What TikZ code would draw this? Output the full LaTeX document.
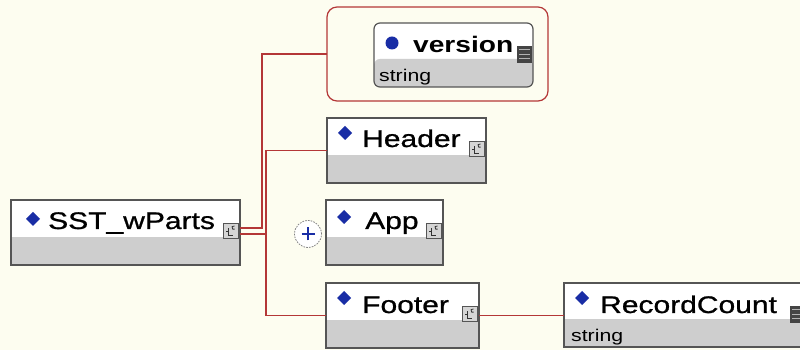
\documentclass[tikz,border=0pt]{standalone}
\usepackage{fontspec}
\newfontfamily\xsdfont{Liberation Sans}[FakeStretch=1.25]
\newfontfamily\xsdnamefont{Liberation Sans}[FakeStretch=1.25, FakeBold=0.9]
\usetikzlibrary{calc}

\definecolor{paper}{RGB}{253,253,240}
\definecolor{boxline}{RGB}{85,85,85}
\definecolor{lowgrey}{RGB}{206,206,206}
\definecolor{wire}{RGB}{180,55,55}
\definecolor{markblue}{RGB}{25,45,165}

\begin{document}
\begin{tikzpicture}[x=1pt,y=1pt,
  font=\xsdnamefont\fontsize{24}{28}\selectfont,
  elbox/.style={draw=boxline, line width=1.2pt, fill=white, inner sep=0pt,
    outer sep=0pt, minimum height=65pt,
    path picture={\fill[lowgrey] (path picture bounding box.south west)
      rectangle ([yshift=28pt]path picture bounding box.south east);}},
  attrgroup/.style={draw=wire, line width=1.2pt, fill=paper, rounded corners=10pt,
    inner sep=0pt, outer sep=0pt},
  label/.style={anchor=base west, inner sep=0pt},
  typelabel/.style={anchor=base west, inner sep=0pt,
    font=\xsdfont\fontsize{17}{19}\selectfont},
  conn/.style={draw=wire, line width=1.3pt},
  elemdiamond/.pic={\fill[markblue] (-7,0) -- (0,7) -- (7,0) -- (0,-7) -- cycle;},
  ctype/.pic={
    \draw[boxline, fill=lowgrey!85!white, line width=0.8pt] (0,0) rectangle (15,15);
    \draw[black!80, line width=0.9pt] (9.5,3) -- (5.5,3) -- (5.5,10);
    \draw[black!80, line width=0.9pt] (3,7) -- (5.5,7);
    \draw[black!80, line width=0.8pt] (11.5,12) arc (60:300:1.8);},
  stype/.pic={
    \fill[boxline!80!black] (0,0) rectangle (15,17);
    \foreach \yy in {4,8.5,13}
      \draw[white!70!black, line width=1pt] (2,\yy) -- (13,\yy);}
]
\useasboundingbox (0,0) rectangle (800,350);
\clip (0,0) rectangle (800,350);
\fill[paper] (0,0) rectangle (800,350);

% element boxes
\node[elbox, minimum width=229pt] (sst) at (125.5,117.5) {};
\node[attrgroup, minimum width=221pt, minimum height=94pt] (attr) at (437.5,296) {};
\node[elbox, rounded corners=6pt, minimum width=159pt, minimum height=64pt] (ver) at (453.5,295) {};
\node[elbox, minimum width=159pt] (hdr) at (406.5,199.5) {};
\node[elbox, minimum width=117pt] (app) at (384.5,117.5) {};
\node[elbox, minimum width=153pt] (ftr) at (402.5,34.5) {};
\node[elbox, minimum width=242pt, minimum height=64pt] (rc) at (685,35) {};

% sequence branch points
\coordinate (jA) at (262,0);
\coordinate (jB) at (266,0);
\coordinate (sstA) at ($(sst.east)+(0,4.5)$);
\coordinate (sstB) at ($(sst.east)+(0,-1.5)$);

% connectors
\draw[conn] (sstA) -- (sstA -| jA) -- (attr.west -| jA) -- (attr.west);
\draw[conn] (sstB) -- (sstB -| jB);
\draw[conn] (hdr.west) -- (hdr.west -| jB) -- (ftr.west -| jB) -- (ftr.west);
\draw[conn] (ftr.east) -- (ftr.east -| rc.west);

% expand button
\node[circle, draw=gray, dash pattern=on 1.6pt off 1.2pt, line width=0.8pt,
      fill=white, minimum size=27pt, inner sep=0pt] (plus) at (308,116) {};
\draw[markblue, line width=1.3pt] ($(plus.center)+(-6.5,0)$) -- ($(plus.center)+(6.5,0)$);
\draw[markblue, line width=1.3pt] ($(plus.center)+(0,-6.5)$) -- ($(plus.center)+(0,6.5)$);

% names
\node[label] (tsst) at (48,121) {SST\_wParts};
\node[label] (thdr) at (362,203) {Header};
\node[label] (tapp) at (365,121) {App};
\node[label] (tftr) at (362,37) {Footer};
\node[label] (trc) at (600,37) {RecordCount};
\node[label, font=\xsdfont\bfseries\fontsize{22.5}{26}\selectfont] (tver) at (413,297) {version};
\node[typelabel] (tvtype) at (379,268) {string};
\node[typelabel] (trctype) at (571,8) {string};

% markers
\pic at (33,131) {elemdiamond};
\pic at (345,217) {elemdiamond};
\pic at (344,133) {elemdiamond};
\pic at (344,52) {elemdiamond};
\pic at (582,52) {elemdiamond};
\fill[markblue] (392,307) circle (6.5);

% type icons
\pic at ($(sst.north east)+(-17,-38)$) {ctype};
\pic at ($(hdr.north east)+(-17,-38)$) {ctype};
\pic at ($(app.north east)+(-17,-38)$) {ctype};
\pic at ($(ftr.north east)+(-17,-38)$) {ctype};
\pic at ($(ver.north east)+(-16,-40)$) {stype};
\pic at ($(rc.north east)+(-16,-40)$) {stype};
\end{tikzpicture}
\end{document}
